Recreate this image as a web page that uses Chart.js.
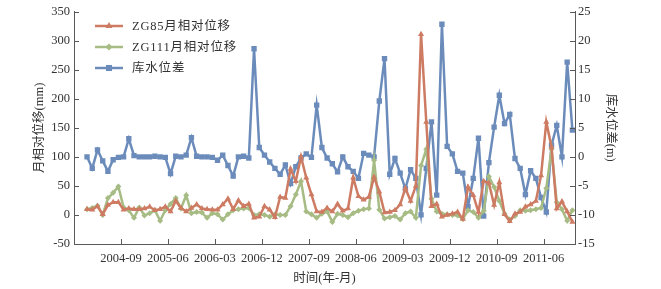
<!DOCTYPE html>
<html><head><meta charset="utf-8">
<script src="https://cdn.jsdelivr.net/npm/chart.js@4.4.1/dist/chart.umd.min.js"></script>
<style>html,body{margin:0;padding:0;background:#fff}#wrap{width:661px;height:289px}</style>
</head><body><div id="wrap"><canvas id="c" width="661" height="289"></canvas></div>
<script>
const months = [
 '2004-02','2004-03','2004-04','2004-05','2004-06','2004-07','2004-08','2004-09','2004-10','2004-11','2004-12',
 '2005-01','2005-02','2005-03','2005-04','2005-05','2005-06','2005-07','2005-08','2005-09','2005-10','2005-11','2005-12',
 '2006-01','2006-02','2006-03','2006-04','2006-05','2006-06','2006-07','2006-08','2006-09','2006-10','2006-11','2006-12',
 '2007-01','2007-02','2007-03','2007-04','2007-05','2007-06','2007-07','2007-08','2007-09','2007-10','2007-11','2007-12',
 '2008-01','2008-02','2008-03','2008-04','2008-05','2008-06','2008-07','2008-08','2008-09','2008-10','2008-11','2008-12',
 '2009-01','2009-02','2009-03','2009-04','2009-05','2009-06','2009-07','2009-08','2009-09','2009-10','2009-11','2009-12',
 '2010-01','2010-02','2010-03','2010-04','2010-05','2010-06','2010-07','2010-08','2010-09','2010-10','2010-11','2010-12',
 '2011-01','2011-02','2011-03','2011-04','2011-05','2011-06','2011-07','2011-08','2011-09','2011-10','2011-11'
];
// ZG85 monthly relative displacement (mm)
const zg85 = [
 10, 9, 15, 1, 17, 22, 22, 9, 11, 10, 10,
 11, 14, 8, 10, 14, 6, 24, 12, 6, 12, 18, 11,
 10, 9, 9, 18, 28, 10, 25, 15, 19, -5, -3, 15,
 9, -4, 31, 29, 79, 58, 100, 64, 35, 6, 5, 12,
 6, 19, 7, 11, 64, 32, 26, 31, 65, 40, 4, 5,
 8, 18, 46, 24, 50, 311, 160, 15, 19, -3, 0, 2,
 5, -7, 48, 34, 5, 58, 55, 17, 56, 1, -11, 2,
 5, 14, 18, 24, 68, 160, 117, 11, 23, 6, -12
];
// ZG111 monthly relative displacement (mm)
const zg111 = [
 10, 12, 16, 0, 29, 38, 49, 13, 8, -5, 13,
 -1, 3, 8, -10, 8, 19, 29, 11, 34, 3, 5, 4,
 -5, 3, 1, -8, 1, 8, 10, 11, 12, 0, 1, 0,
 -3, 1, 0, 0, 15, 35, 58, 6, 1, -5, 2, 6,
 -12, 2, 0, -4, 3, 7, 10, 11, 94, 9, -6, -4,
 -2, -8, 3, 6, -5, 85, 113, 28, 6, 2, 1, 0,
 -1, -7, 8, 5, -5, 7, 66, 48, 24, 2, -8, -2,
 8, 7, 8, 10, 12, 46, 113, 22, 10, -10, 8
];
// reservoir water level difference (m)
const waterDiff = [
 0.0, -2.0, 1.2, -0.7, -2.5, -0.5, -0.1, 0.0, 3.1, 0.2, 0.0,
 0.0, 0.0, 0.1, 0.0, -0.1, -2.9, 0.1, 0.0, 0.3, 3.3, 0.1, 0.0,
 0.0, -0.1, -0.6, 0.3, -1.5, -3.3, 0.0, 0.1, -0.2, 18.6, 1.6, 0.3,
 -0.9, -2.0, -3.0, -1.4, -4.6, -1.7, -0.2, 0.5, -0.1, 8.9, 1.6, -0.2,
 -1.2, -2.6, 0.0, -1.7, -2.5, -3.7, 0.6, 0.3, 0.0, 9.6, 16.9, -3.0,
 -0.3, -2.8, -5.5, -2.2, -3.7, -10.0, -2.0, 6.0, -6.6, 22.8, 1.8, 0.5,
 -2.5, -2.8, -8.6, -3.7, 3.2, -10.2, -1.0, 5.1, 10.6, 5.7, 7.3, -0.3,
 -2.0, -6.5, -2.4, -3.7, -7.0, -9.5, 2.0, 5.4, 0.0, 16.3, 4.6
];
const xTickLabels = ['2004-09','2005-06','2006-03','2006-12','2007-09','2008-06','2009-03','2009-12','2010-09','2011-06'];
const xRange = ['2003-12','2011-12'];

function monthIndex(s){const p=s.split('-').map(Number);return (p[0]-2004)*12+(p[1]-1);}
const pts = arr => arr.map((v,i)=>({x: monthIndex(months[i])+0.5, y: v}));

const FONT = "'Liberation Serif', 'Noto Sans CJK SC', serif";
const axisColor = '#595959';
const textColor = '#333333';
const cOrange = '#CD7B62', cGreen = '#A7BC84', cBlue = '#6B8CBB';

const tickPlugin = {
  id:'inTicks',
  afterDraw(chart){
    const {ctx, chartArea:a, scales} = chart;
    ctx.save(); ctx.strokeStyle = axisColor; ctx.lineWidth = 1; ctx.beginPath();
    scales.x.ticks.forEach(t=>{const px=Math.round(scales.x.getPixelForValue(t.value))+0.5; ctx.moveTo(px,a.bottom); ctx.lineTo(px,a.bottom-5);});
    scales.y.ticks.forEach(t=>{const py=Math.round(scales.y.getPixelForValue(t.value))+0.5; ctx.moveTo(a.left,py); ctx.lineTo(a.left+5,py);});
    scales.y1.ticks.forEach(t=>{const py=Math.round(scales.y1.getPixelForValue(t.value))+0.5; ctx.moveTo(a.right,py); ctx.lineTo(a.right-5,py);});
    ctx.stroke(); ctx.restore();
  }
};
const legendPlugin = {
  id:'inLegend',
  afterDraw(chart){
    const ctx = chart.ctx; ctx.save();
    chart.data.datasets.forEach((ds,i)=>{
      const y = 26 + i*21;
      ctx.strokeStyle = ds.borderColor; ctx.lineWidth = 2.5;
      ctx.beginPath(); ctx.moveTo(95,y); ctx.lineTo(123,y); ctx.stroke();
      ctx.fillStyle = ds.pointBackgroundColor;
      Chart.helpers.drawPoint(ctx,{pointStyle:ds.pointStyle,radius:ds.pointRadius+0.5,rotation:0,borderWidth:0},109,y);
      ctx.fillStyle = textColor; ctx.font = "12.5px " + FONT; ctx.textBaseline = 'middle';
      try { ctx.letterSpacing = '0.8px'; } catch(e) {}
      ctx.fillText(ds.label, 132, y+0.5);
    });
    ctx.restore();
  }
};

const tickFont = {family: FONT, size: 12.5};
const noGrid = {display:false, drawTicks:false, tickLength:0};
new Chart(document.getElementById('c'), {
  type:'line',
  data:{ datasets:[
    {label:'ZG85月相对位移', data: pts(zg85), yAxisID:'y', borderColor:cOrange, backgroundColor:cOrange, pointBackgroundColor:cOrange, pointBorderWidth:0, pointStyle:'triangle', pointRadius:3.5, borderWidth:2.5, tension:0},
    {label:'ZG111月相对位移', data: pts(zg111), yAxisID:'y', borderColor:cGreen, backgroundColor:cGreen, pointBackgroundColor:cGreen, pointBorderWidth:0, pointStyle:'rectRot', pointRadius:3, borderWidth:2.5, tension:0},
    {label:'库水位差', data: pts(waterDiff), yAxisID:'y1', borderColor:cBlue, backgroundColor:cBlue, pointBackgroundColor:cBlue, pointBorderWidth:0, pointStyle:'rect', pointRadius:3.8, borderWidth:2.5, tension:0}
  ]},
  options:{
    responsive:false, animation:false, devicePixelRatio:1,
    layout:{padding:{top:11,left:0,right:0,bottom:0}},
    plugins:{legend:{display:false}, tooltip:{enabled:false}},
    scales:{
      x:{type:'linear', min:monthIndex(xRange[0]), max:monthIndex(xRange[1]),
        afterBuildTicks(ax){ ax.ticks = xTickLabels.map(l=>({value:monthIndex(l)})); },
        afterFit(s){ s.height = 45; },
        grid:noGrid, border:{display:true,color:axisColor,width:1},
        ticks:{font:tickFont, color:textColor, padding:7, maxRotation:0, autoSkip:false,
          callback(v){ const i = xTickLabels.findIndex(l=>monthIndex(l)===v); return i>=0 ? xTickLabels[i] : ''; }},
        title:{display:true, text:'时间(年-月)', font:{family:FONT,size:12.5}, color:textColor, padding:{top:0,bottom:3}}
      },
      y:{position:'left', min:-50, max:350,
        afterFit(s){ s.width = 74; },
        grid:noGrid, border:{display:true,color:axisColor,width:1},
        ticks:{stepSize:50, font:tickFont, color:textColor, padding:4},
        title:{display:true, text:'月相对位移(mm)', font:{family:FONT,size:12.5}, color:textColor, padding:{top:32,bottom:0}}
      },
      y1:{position:'right', min:-15, max:25,
        afterFit(s){ s.width = 86; },
        grid:noGrid, border:{display:true,color:axisColor,width:1},
        ticks:{stepSize:5, font:tickFont, color:textColor, padding:3},
        title:{display:true, text:'库水位差(m)', font:{family:FONT,size:12.5}, color:textColor, padding:{top:43,bottom:0}}
      }
    }
  },
  plugins:[tickPlugin, legendPlugin]
});
</script></body></html>
